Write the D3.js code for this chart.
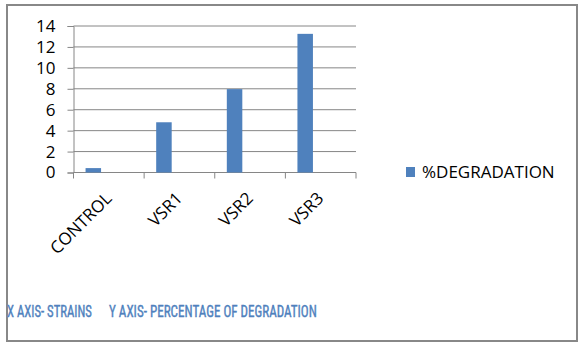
<!DOCTYPE html>
<html><head><meta charset="utf-8">
<script src="https://cdn.jsdelivr.net/npm/d3@7"></script>
<style>body{margin:0;background:#fff}svg{display:block}</style>
</head><body>
<script>
const categories = ["CONTROL", "VSR1", "VSR2", "VSR3"];
const values = [0.42, 4.8, 7.97, 13.25];
const yTicks = [0, 2, 4, 6, 8, 10, 12, 14];
const seriesName = "%DEGRADATION";
const noteX = "X AXIS- STRAINS";
const noteY = "Y AXIS- PERCENTAGE OF DEGRADATION";

(function () {
const W = 587, H = 349;
const svg = d3.select("body").append("svg").attr("width", W).attr("height", H);
svg.append("rect").attr("x", 7).attr("y", 5).attr("width", 570).attr("height", 336)
  .attr("fill", "#fff").attr("stroke", "#888").attr("stroke-width", 2);

const pL = 73.5, pR = 356, pT = 26, pB = 172.5;
const x = d3.scaleBand().domain(categories).range([pL, pR]);
const y = d3.scaleLinear().domain([0, 14]).range([pB, pT]);
const font = "'Open Sans', 'Liberation Sans', sans-serif";

// gridlines
svg.append("g").selectAll("line").data(yTicks.filter(d => d > 0)).join("line")
  .attr("x1", pL).attr("x2", pR).attr("y1", d => y(d)).attr("y2", d => y(d))
  .attr("stroke", "#868686").attr("stroke-width", 1);

// y axis
const ya = svg.append("g").attr("transform", `translate(${pL},0)`)
  .call(d3.axisLeft(y).tickValues(yTicks).tickSize(6).tickPadding(12));
ya.select(".domain").attr("stroke", "#868686");
ya.selectAll(".tick line").attr("stroke", "#868686");
ya.selectAll("text").attr("font-family", font).attr("font-size", 17).attr("fill", "#000");

// x axis
const xa = svg.append("g").attr("transform", `translate(0,${pB})`)
  .call(d3.axisBottom(x).tickSize(0).tickFormat(""));
xa.select(".domain").attr("stroke", "#868686").attr("d", `M${pL},0H${pR}`);
svg.append("g").selectAll("line").data(d3.range(categories.length + 1)).join("line")
  .attr("x1", i => pL + i * x.bandwidth()).attr("x2", i => pL + i * x.bandwidth())
  .attr("y1", pB).attr("y2", pB + 6).attr("stroke", "#868686");

svg.append("g").selectAll("text").data(categories).join("text")
  .attr("transform", d => `translate(${x(d) + x.bandwidth() / 2 + 4},${pB + 27}) rotate(-45)`)
  .attr("text-anchor", "end").attr("font-family", font).attr("font-size", 17).attr("fill", "#000")
  .text(d => d);

// bars
const bw = 15.5, off = -15.5;
svg.append("g").selectAll("rect").data(categories).join("rect")
  .attr("x", (d) => x(d) + x.bandwidth() / 2 + off - bw / 2)
  .attr("width", bw)
  .attr("y", (d, i) => y(values[i]))
  .attr("height", (d, i) => y(0) - y(values[i]))
  .attr("fill", "#4F81BD");

// legend
svg.append("rect").attr("x", 406).attr("y", 167).attr("width", 9).attr("height", 10).attr("fill", "#4F81BD");
svg.append("text").attr("x", 422).attr("y", 178).attr("font-family", font).attr("font-size", 17)
  .attr("fill", "#000").text(seriesName);

// notes (horizontally condensed via transform so bounding boxes stay true)
const nf = "'Liberation Sans Narrow', 'Roboto Condensed', 'Liberation Sans', sans-serif";
function note(txt, x0, width) {
  const g = svg.append("g");
  const t = g.append("text").attr("x", 0).attr("y", 0).attr("font-family", nf).attr("font-size", 17)
    .attr("fill", "#4F81BD").attr("stroke", "#4F81BD").attr("stroke-width", 0.4).text(txt);
  const w = t.node().getComputedTextLength();
  g.attr("transform", `translate(${x0},317) scale(${width / w},1)`);
}
note(noteX, 7, 85);
note(noteY, 109, 208);
})();
</script>
</body></html>
